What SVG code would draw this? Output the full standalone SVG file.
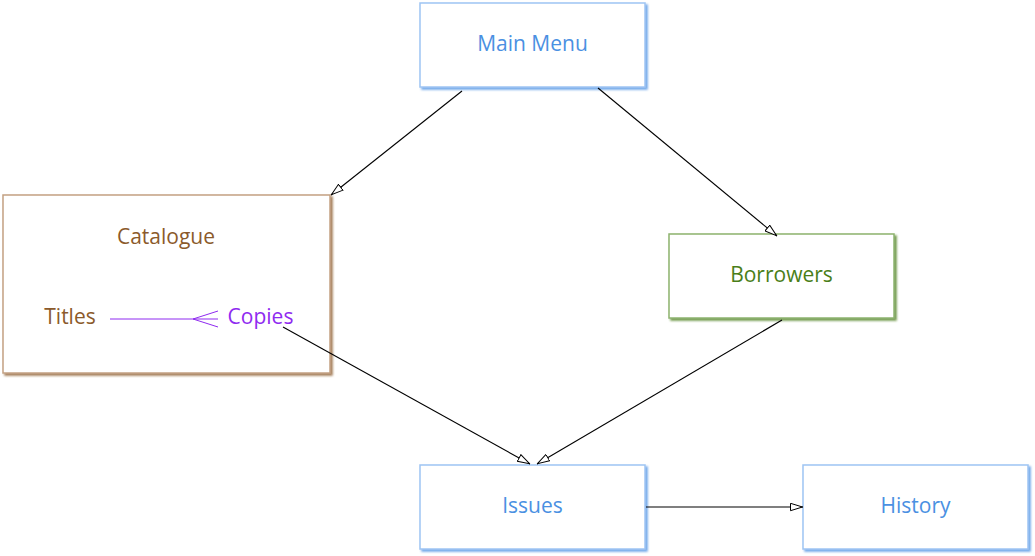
<svg xmlns="http://www.w3.org/2000/svg" width="1035" height="556" viewBox="0 0 1035 556">
<style>
.box{fill:#fff;stroke-width:1.5}
.blue{stroke:#9ec5f3;filter:url(#shB)}
.brown{stroke:#c3a182;filter:url(#shBr)}
.green{stroke:#8db36e;filter:url(#shG)}
.lbl{font-family:"Open Sans","Noto Sans",sans-serif;font-size:21px;text-anchor:middle}
.tb{fill:#4a90e2}
.tbr{fill:#8b5a2b}
.tg{fill:#4a7e19}
.tp{fill:#8f2af0}
.conn{stroke:#000;stroke-width:1.1;fill:none;marker-end:url(#arr)}
</style>
<defs>
<filter id="shB" x="-5%" y="-5%" width="115%" height="115%"><feDropShadow dx="2" dy="2" stdDeviation="1" flood-color="#4a90e2" flood-opacity="0.8"/></filter>
<filter id="shBr" x="-5%" y="-5%" width="115%" height="115%"><feDropShadow dx="2" dy="2" stdDeviation="1" flood-color="#8b5a2b" flood-opacity="0.8"/></filter>
<filter id="shG" x="-5%" y="-5%" width="115%" height="115%"><feDropShadow dx="2" dy="2" stdDeviation="1" flood-color="#4a7e19" flood-opacity="0.8"/></filter>
<marker id="arr" viewBox="0 0 13 9" refX="13" refY="4.5" markerWidth="13" markerHeight="9" markerUnits="userSpaceOnUse" orient="auto">
<path d="M0.5,0.8 L12.5,4.5 L0.5,8.2 z" fill="#fff" stroke="#000" stroke-width="1"/>
</marker>
</defs>
<rect width="1035" height="556" fill="#fff"/>
<g id="main-menu">
<rect class="box blue" x="420" y="3" width="225" height="84"/>
<text class="lbl tb" x="532.5" y="51">Main Menu</text>
</g>
<g id="catalogue">
<rect class="box brown" x="3" y="195" width="327" height="178"/>
<text class="lbl tbr" x="166" y="244">Catalogue</text>
<g id="titles"><text class="lbl tbr" x="70" y="324">Titles</text></g>
<g id="titles-copies">
<line x1="110" y1="319" x2="218" y2="319" stroke="#8f2af0" stroke-width="1"/>
<path d="M218,311 L193,319 L218,327" fill="none" stroke="#8f2af0" stroke-width="1"/>
</g>
<g id="copies"><text class="lbl tp" x="260.5" y="324">Copies</text></g>
</g>
<g id="borrowers">
<rect class="box green" x="669" y="234" width="225" height="84"/>
<text class="lbl tg" x="781.5" y="282">Borrowers</text>
</g>
<g id="issues">
<rect class="box blue" x="420" y="465" width="225" height="84"/>
<text class="lbl tb" x="532.5" y="513">Issues</text>
</g>
<g id="history">
<rect class="box blue" x="803" y="465" width="225" height="84"/>
<text class="lbl tb" x="915.5" y="513">History</text>
</g>
<g id="connectors">
<line class="conn" x1="462" y1="91" x2="331" y2="195"/>
<line class="conn" x1="598" y1="88" x2="777" y2="236"/>
<line class="conn" x1="283" y1="327" x2="530" y2="464"/>
<line class="conn" x1="782" y1="320" x2="537" y2="464"/>
<line class="conn" x1="646" y1="507" x2="803" y2="507"/>
</g>
</svg>
